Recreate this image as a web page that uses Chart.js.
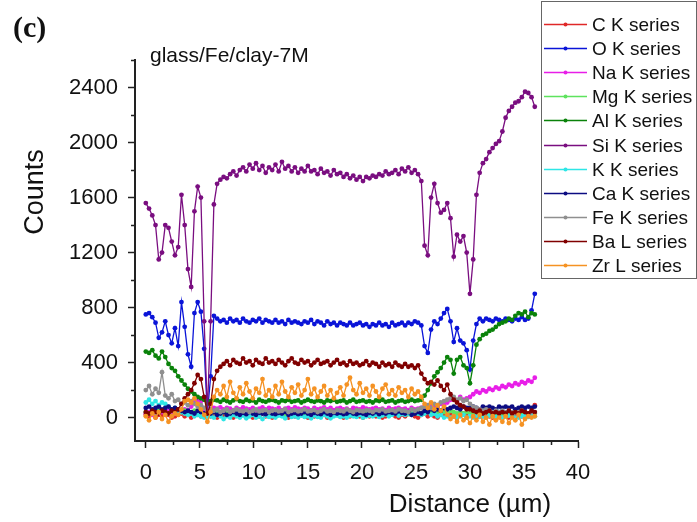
<!DOCTYPE html>
<html>
<head>
<meta charset="utf-8">
<script src="https://cdn.jsdelivr.net/npm/chart.js@4.4.1/dist/chart.umd.min.js"></script>
<style>
  body { margin: 0; background: #fff; }
  canvas { display: block; }
</style>
</head>
<body>
<canvas id="linescan" width="697" height="522"></canvas>
<script>
// distance along the line scan (um)
var distance = [0, 0.3, 0.6, 0.9, 1.2, 1.5, 1.8, 2.1, 2.4, 2.7,
  3, 3.3, 3.6, 3.9, 4.2, 4.5, 4.8, 5.1, 5.4, 5.7,
  6, 6.3, 6.6, 6.9, 7.2, 7.5, 7.8, 8.1, 8.4, 8.7,
  9, 9.3, 9.6, 9.9, 10.2, 10.5, 10.8, 11.1, 11.4, 11.7,
  12, 12.3, 12.6, 12.9, 13.2, 13.5, 13.8, 14.1, 14.4, 14.7,
  15, 15.3, 15.6, 15.9, 16.2, 16.5, 16.8, 17.1, 17.4, 17.7,
  18, 18.3, 18.6, 18.9, 19.2, 19.5, 19.8, 20.1, 20.4, 20.7,
  21, 21.3, 21.6, 21.9, 22.2, 22.5, 22.8, 23.1, 23.4, 23.7,
  24, 24.3, 24.6, 24.9, 25.2, 25.5, 25.8, 26.1, 26.4, 26.7,
  27, 27.3, 27.6, 27.9, 28.2, 28.5, 28.8, 29.1, 29.4, 29.7,
  30, 30.3, 30.6, 30.9, 31.2, 31.5, 31.8, 32.1, 32.4, 32.7,
  33, 33.3, 33.6, 33.9, 34.2, 34.5, 34.8, 35.1, 35.4, 35.7,
  36]

var cK = [20, 10, 30, 0, 20, 10, 30, 20, 0, 10,
  20, 30, 10, 20, 0, 30, 20, 10, 30, 20,
  10, 20, 0, 30, 10, 20, 10, 0, 20, 10,
  30, 10, 20, 0, 20, 10, 30, 10, 20, 0,
  10, 20, 30, 10, 0, 20, 10, 30, 20, 10,
  0, 20, 10, 30, 10, 20, 0, 10, 20, 30,
  10, 0, 20, 10, 30, 20, 10, 0, 20, 10,
  20, 10, 30, 0, 10, 20, 30, 10, 0, 20,
  10, 30, 20, 10, 0, 20, 30, 10, 20, 10,
  0, 20, 10, 30, 20, 10, 0, 20, 30, 10,
  20, 10, 0, 30, 10, 20, 10, 0, 20, 30,
  10, 20, 0, 10, 30, 20, 10, 0, 20, 40,
  90]

var oK = [750, 760, 730, 690, 580, 620, 700, 600, 540, 650,
  520, 840, 660, 460, 370, 760, 840, 770, 500, 30,
  300, 740, 720, 700, 710, 690, 720, 700, 710, 690,
  720, 700, 690, 710, 700, 720, 690, 710, 700, 690,
  710, 690, 700, 680, 710, 690, 700, 690, 680, 700,
  690, 710, 680, 700, 690, 670, 700, 680, 690, 670,
  690, 680, 670, 690, 670, 680, 690, 670, 680, 660,
  680, 670, 690, 670, 680, 660, 690, 670, 680, 690,
  670, 690, 680, 700, 690, 670, 520, 470, 640, 700,
  680, 720, 760, 790, 700, 550, 650, 560, 540, 490,
  350, 560, 680, 720, 700, 720, 710, 700, 720, 710,
  700, 720, 710, 700, 720, 710, 730, 710, 720, 780,
  900]

var naK = [30, 40, 20, 50, 30, 40, 20, 50, 40, 30,
  50, 40, 60, 50, 80, 110, 130, 120, 60, 50,
  60, 70, 65, 75, 60, 70, 65, 55, 70, 60,
  75, 65, 60, 70, 55, 65, 75, 60, 70, 65,
  60, 70, 55, 65, 70, 60, 75, 65, 60, 70,
  65, 55, 70, 60, 65, 75, 60, 70, 55, 65,
  70, 60, 65, 55, 70, 65, 60, 75, 65, 60,
  65, 70, 60, 65, 55, 70, 60, 65, 70, 60,
  65, 55, 70, 60, 65, 70, 80, 60, 90, 70,
  80, 100, 90, 110, 130, 140, 120, 150, 130, 140,
  150, 170, 190, 180, 200, 190, 210, 200, 220, 210,
  230, 220, 240, 230, 250, 240, 260, 250, 270, 260,
  290]

var mgK = [40, 30, 50, 40, 60, 50, 40, 30, 50, 40,
  30, 40, 50, 40, 30, 50, 40, 30, 20, 10,
  30, 40, 30, 20, 40, 30, 25, 35, 30, 20,
  35, 25, 30, 40, 20, 30, 35, 25, 30, 40,
  25, 30, 35, 20, 30, 40, 25, 30, 35, 25,
  30, 20, 35, 30, 25, 40, 30, 20, 35, 30,
  25, 35, 30, 20, 30, 35, 25, 30, 40, 25,
  30, 35, 20, 30, 25, 35, 30, 40, 25, 30,
  35, 25, 30, 40, 30, 35, 40, 50, 40, 30,
  40, 50, 40, 30, 50, 40, 30, 40, 30, 40,
  30, 40, 30, 20, 30, 40, 30, 20, 30, 40,
  30, 20, 40, 30, 20, 30, 40, 30, 20, 30,
  30]

var alK = [480, 470, 490, 450, 430, 480, 440, 390, 360, 340,
  300, 270, 240, 210, 190, 170, 150, 140, 130, 100,
  120, 130, 125, 115, 130, 120, 110, 125, 135, 120,
  115, 130, 120, 125, 110, 130, 120, 115, 125, 130,
  120, 110, 125, 120, 130, 115, 120, 125, 110, 120,
  130, 120, 115, 125, 120, 110, 125, 120, 130, 115,
  120, 125, 110, 120, 130, 115, 120, 125, 115, 120,
  110, 125, 120, 130, 115, 120, 125, 110, 120, 125,
  115, 120, 130, 120, 125, 130, 160, 200, 250, 300,
  330, 360, 400, 440, 420, 320, 420, 440, 380, 360,
  250, 380, 530, 570, 600, 610, 630, 640, 660, 680,
  690, 700, 720, 710, 740, 760, 750, 770, 730, 760,
  750]

var siK = [1560, 1520, 1470, 1400, 1150, 1200, 1400, 1380, 1280, 1180,
  1240, 1620, 1400, 1080, 950, 1500, 1680, 1600, 700, 40,
  700, 1550, 1700, 1730, 1750, 1740, 1770, 1790, 1760, 1800,
  1820, 1790, 1840, 1810, 1850, 1800, 1830, 1780, 1820, 1800,
  1840, 1790, 1860, 1810, 1830, 1790, 1820, 1780, 1810, 1790,
  1830, 1790, 1800, 1770, 1810, 1780, 1790, 1760, 1800, 1770,
  1780, 1750, 1770, 1740, 1760, 1730, 1750, 1720, 1750, 1740,
  1760, 1750, 1770, 1760, 1790, 1770, 1780, 1800, 1770, 1810,
  1790, 1820, 1780, 1800, 1770, 1720, 1250, 1180, 1600, 1700,
  1560, 1490, 1510, 1560, 1450, 1170, 1330, 1280, 1320, 1200,
  900, 1150, 1620, 1780, 1850, 1880, 1930, 1960, 1990, 2010,
  2080, 2180, 2230, 2260, 2290, 2300, 2330, 2370, 2360, 2330,
  2260]

var kK = [110, 130, 100, 120, 90, 110, 100, 80, 60, 70,
  50, 40, 30, 20, 30, 10, 20, 10, 0, 10,
  10, 0, 20, 10, -10, 10, 0, 20, 10, 0,
  15, -5, 10, 20, 0, 10, -10, 15, 5, 10,
  0, 15, 10, -5, 20, 5, 10, 0, 15, 5,
  10, -5, 15, 5, 0, 20, 10, -5, 10, 15,
  5, 10, 0, 15, 10, 5, 20, 0, 10, 15,
  10, 20, 5, 15, 25, 10, 20, 30, 15, 25,
  20, 30, 20, 40, 30, 20, 30, 40, 20, 30,
  10, 20, 0, 10, 0, 10, 0, 10, 20, 0,
  10, 0, 15, 5, 10, 0, 15, 10, 5, 10,
  0, 10, 15, 5, 10, 0, 10, 15, 5, 10,
  10]

var caK = [70, 80, 60, 70, 80, 60, 70, 80, 60, 70,
  60, 50, 40, 50, 40, 30, 50, 40, 30, 40,
  30, 40, 20, 30, 40, 20, 30, 40, 30, 20,
  35, 25, 40, 30, 20, 35, 30, 25, 40, 30,
  25, 35, 30, 40, 20, 30, 35, 25, 30, 40,
  30, 20, 35, 30, 25, 40, 30, 20, 35, 30,
  35, 25, 30, 40, 30, 25, 35, 30, 20, 35,
  30, 40, 25, 35, 30, 40, 35, 30, 45, 35,
  30, 40, 20, 30, 40, 30, 50, 40, 60, 50,
  60, 50, 70, 60, 70, 80, 70, 60, 80, 70,
  70, 80, 70, 60, 80, 70, 80, 70, 60, 80,
  70, 80, 70, 80, 60, 70, 80, 70, 80, 70,
  80]

var feK = [200, 230, 170, 210, 180, 330, 160, 140, 170, 120,
  130, 100, 110, 90, 120, 100, 80, 90, 70, 40,
  60, 50, 60, 40, 50, 60, 40, 50, 60, 50,
  45, 55, 40, 50, 60, 45, 50, 55, 40, 50,
  55, 45, 50, 60, 40, 50, 55, 45, 50, 60,
  45, 50, 55, 40, 50, 60, 45, 50, 40, 55,
  50, 45, 60, 50, 40, 55, 50, 45, 55, 50,
  40, 55, 50, 60, 45, 50, 55, 45, 60, 50,
  50, 40, 60, 50, 60, 70, 80, 90, 70, 100,
  90, 110, 120, 130, 140, 150, 130, 140, 120, 130,
  100, 80, 70, 60, 50, 60, 50, 40, 50, 40,
  50, 40, 50, 40, 30, 40, 50, 40, 30, 40,
  40]

var baL = [40, 30, 50, 40, 30, 50, 40, 30, 50, 40,
  60, 100, 140, 170, 200, 250, 310, 280, 150, 30,
  100, 280, 340, 370, 390, 410, 380, 420, 400, 390,
  430, 400, 410, 380, 420, 400, 390, 430, 400, 410,
  390, 420, 400, 380, 410, 430, 400, 390, 420, 400,
  410, 380, 400, 420, 390, 400, 410, 380, 400, 420,
  390, 400, 380, 410, 390, 400, 380, 390, 410, 380,
  400, 390, 370, 400, 380, 390, 370, 400, 380, 370,
  390, 370, 380, 360, 380, 320, 280, 250, 260, 240,
  270, 230, 200, 240, 170, 130, 110, 90, 80, 60,
  60, 50, 40, 50, 30, 40, 50, 30, 40, 30,
  40, 30, 50, 30, 40, 30, 50, 40, 30, 50,
  40]

var zrL = [10, -20, 30, 0, 40, -10, 20, -30, 10, 30,
  20, 60, 120, 130, 110, 140, 100, 60, 20, -30,
  40, 150, 200, 170, 230, 150, 260, 180, 140, 220,
  170, 250, 190, 140, 210, 180, 280, 160, 200, 150,
  230, 170, 260, 190, 150, 220, 180, 240, 160, 200,
  280, 170, 210, 150, 190, 230, 160, 200, 140, 180,
  220, 160, 240, 290, 200, 170, 250, 180, 210, 160,
  230, 190, 150, 210, 240, 170, 200, 160, 220, 180,
  200, 150, 210, 170, 190, 150, 100, 70, 110, 60,
  90, 50, 80, 20, -10, 10, -30, 20, -20, 0,
  -40, 10, -20, 20, -30, 0, -50, 10, -20, 0,
  -30, 10, -40, 0, -20, 20, -50, -10, 10, 0,
  10]

var seriesNames = ['C K series', 'O K series', 'Na K series', 'Mg K series', 'Al K series',
  'Si K series', 'K K series', 'Ca K series', 'Fe K series', 'Ba L series', 'Zr L series']
var seriesValues = [cK, oK, naK, mgK, alK, siK, kK, caK, feK, baL, zrL]
var seriesColors = ['#e02828', '#0a14d8', '#e81ee8', '#5ee35e', '#0a820a',
  '#7a0e80', '#2ee6e6', '#0c0c82', '#8f8f8f', '#800000', '#f59223']

var xTicks = [0, 5, 10, 15, 20, 25, 30, 35, 40]
var xMinor = [2.5, 7.5, 12.5, 17.5, 22.5, 27.5, 32.5, 37.5]
var yTicks = [0, 400, 800, 1200, 1600, 2000, 2400]
var yMinor = [200, 600, 1000, 1400, 1800, 2200, 2600]

var FONT = '"Liberation Sans", Arial, sans-serif'

var datasets = seriesValues.map(function(vals, i) {
  return {
    label: seriesNames[i],
    data: vals.map(function(v, j) { return { x: distance[j], y: v } }),
    borderColor: seriesColors[i],
    backgroundColor: seriesColors[i],
    borderWidth: 1.3,
    pointRadius: 2.4,
    pointBorderWidth: 0,
    pointHoverRadius: 2.4,
    order: seriesValues.length - i
  }
})

// minor ticks, panel label, titles and the boxed legend
var extras = {
  id: 'extras',
  afterDraw: function(chart) {
    var ctx = chart.ctx
    var xs = chart.scales.x, ys = chart.scales.y
    ctx.save()
    ctx.strokeStyle = '#222'
    ctx.lineWidth = 1.5
    ctx.beginPath()
    xMinor.forEach(function(v) {
      var px = Math.round(xs.getPixelForValue(v)) + 0.5
      ctx.moveTo(px, ys.bottom); ctx.lineTo(px, ys.bottom + 4)
    })
    yMinor.forEach(function(v) {
      var py = Math.round(ys.getPixelForValue(v)) + 0.5
      ctx.moveTo(xs.left, py); ctx.lineTo(xs.left - 4, py)
    })
    ctx.stroke()

    ctx.fillStyle = '#111'
    ctx.textBaseline = 'alphabetic'
    ctx.textAlign = 'left'
    ctx.font = 'bold 30px "Liberation Serif", serif'
    ctx.fillText('(c)', 13, 37)
    ctx.font = '21px ' + FONT
    ctx.fillText('glass/Fe/clay-7M', 150, 62)

    ctx.font = '26px ' + FONT
    ctx.textAlign = 'center'
    ctx.fillText('Distance (\u00b5m)', 470, 512)
    ctx.font = '27px ' + FONT
    ctx.save()
    ctx.translate(43, 192)
    ctx.rotate(-Math.PI / 2)
    ctx.fillText('Counts', 0, 0)
    ctx.restore()

    // legend
    var lx = 541, ly = 1, lw = 155, lh = 277
    ctx.fillStyle = '#fff'
    ctx.fillRect(lx, ly, lw, lh)
    ctx.strokeStyle = '#666'
    ctx.lineWidth = 1
    ctx.strokeRect(lx + 0.5, ly + 0.5, lw, lh)
    ctx.textAlign = 'left'
    ctx.textBaseline = 'middle'
    ctx.font = '19px ' + FONT
    chart.data.datasets.forEach(function(ds, i) {
      var ry = Math.round(24 + i * 24.1) + 0.5
      ctx.strokeStyle = ds.borderColor
      ctx.lineWidth = 1.5
      ctx.beginPath(); ctx.moveTo(544, ry); ctx.lineTo(587, ry); ctx.stroke()
      ctx.fillStyle = ds.borderColor
      ctx.beginPath(); ctx.arc(565.5, ry, 2, 0, Math.PI * 2); ctx.fill()
      ctx.fillStyle = '#111'
      ctx.fillText(ds.label, 592, ry + 1)
    })
    ctx.restore()
  }
}

var chart = new Chart(document.getElementById('linescan'), {
  type: 'line',
  data: { datasets: datasets },
  options: {
    responsive: false,
    animation: false,
    devicePixelRatio: 1,
    layout: { padding: { left: 0, top: 60, right: 119, bottom: 0 } },
    plugins: { legend: { display: false }, tooltip: { enabled: false } },
    scales: {
      x: {
        type: 'linear',
        min: -1,
        max: 40,
        afterBuildTicks: function(axis) { axis.ticks = xTicks.map(function(v) { return { value: v } }) },
        afterFit: function(axis) { axis.height = 81 },
        border: { display: true, color: '#222', width: 2 },
        grid: { drawOnChartArea: false, drawTicks: true, tickLength: 7, tickWidth: 1.5, tickColor: '#222' },
        ticks: { color: '#111', font: { family: FONT, size: 22 }, padding: 12, maxRotation: 0,
          callback: function(v) { return String(v) } }
      },
      y: {
        type: 'linear',
        min: -170,
        max: 2600,
        afterBuildTicks: function(axis) { axis.ticks = yTicks.map(function(v) { return { value: v } }) },
        afterFit: function(axis) { axis.width = 135 },
        border: { display: true, color: '#222', width: 2 },
        grid: { drawOnChartArea: false, drawTicks: true, tickLength: 7, tickWidth: 1.5, tickColor: '#222' },
        ticks: { color: '#111', font: { family: FONT, size: 22 }, padding: 10,
          callback: function(v) { return String(v) } }
      }
    }
  },
  plugins: [extras]
})
</script>
</body>
</html>
